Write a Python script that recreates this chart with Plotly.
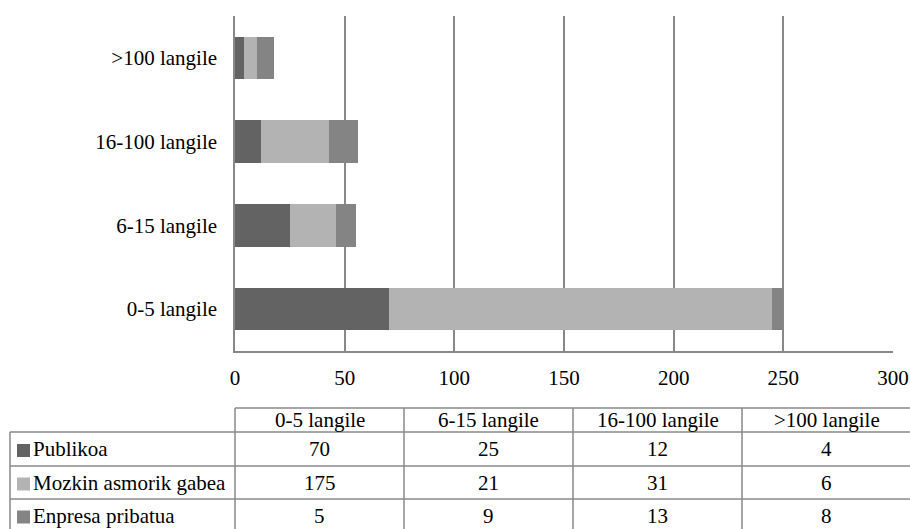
"""Horizontal stacked bars with a data table underneath."""
import plotly.graph_objects as go

categories = ['0-5 langile', '6-15 langile', '16-100 langile', '>100 langile']
series_names = ['Publikoa', 'Mozkin asmorik gabea', 'Enpresa pribatua']
publikoa = [70, 25, 12, 4]
mozkin_gabea = [175, 21, 31, 6]
enpresa_pribatua = [5, 9, 13, 8]
x_ticks = [0, 50, 100, 150, 200, 250, 300]

colors = ['#636363', '#b3b3b3', '#848484']
grid_color = '#888888'
font_family = 'Liberation Serif, Times New Roman, serif'
font_size = 21

W, H = 910, 529


def fx(px):
    return px / W


def fy(px):
    return 1 - px / H


fig = go.Figure()

# stacked bars
series_values = [publikoa, mozkin_gabea, enpresa_pribatua]
for name, vals, col in zip(series_names, series_values, colors):
    fig.add_trace(go.Bar(
        y=categories,
        x=vals,
        name=name,
        orientation='h',
        marker=dict(color=col, line=dict(width=0)),
        showlegend=False
    ))

# data table (drawn with lines + text so the row heights match)
col_edges = [10, 235, 404, 573, 742, 911]
row_edges = [408, 432, 466, 499, 532]
line_style = dict(color=grid_color, width=1.5)

shapes = []
# header top border (not over the label column)
shapes.append(dict(type='line', xref='paper', yref='paper',
                   x0=fx(col_edges[1]), x1=fx(col_edges[-1]),
                   y0=fy(row_edges[0]), y1=fy(row_edges[0]), line=line_style))
for y in row_edges[1:]:
    shapes.append(dict(type='line', xref='paper', yref='paper',
                       x0=fx(col_edges[0]), x1=fx(col_edges[-1]),
                       y0=fy(y), y1=fy(y), line=line_style))
shapes.append(dict(type='line', xref='paper', yref='paper',
                   x0=fx(col_edges[0]), x1=fx(col_edges[0]),
                   y0=fy(row_edges[1]), y1=fy(row_edges[-1]), line=line_style))
for x in col_edges[1:]:
    shapes.append(dict(type='line', xref='paper', yref='paper',
                       x0=fx(x), x1=fx(x),
                       y0=fy(row_edges[0]), y1=fy(row_edges[-1]), line=line_style))

annotations = []
text_font = dict(family=font_family, size=font_size, color='black')
# header
for i, cat in enumerate(categories):
    cx = (col_edges[i + 1] + col_edges[i + 2]) / 2
    cy = (row_edges[0] + row_edges[1]) / 2
    annotations.append(dict(xref='paper', yref='paper', x=fx(cx), y=fy(cy),
                            text=cat, showarrow=False, font=text_font,
                            xanchor='center', yanchor='middle'))
# rows: legend swatch, series name, values
for r, (name, vals, col) in enumerate(zip(series_names, series_values, colors)):
    cy = (row_edges[r + 1] + row_edges[r + 2]) / 2
    shapes.append(dict(type='rect', xref='paper', yref='paper',
                       x0=fx(17), x1=fx(30), y0=fy(cy - 5), y1=fy(cy + 8),
                       fillcolor=col, line=dict(width=0)))
    annotations.append(dict(xref='paper', yref='paper', x=fx(31), y=fy(cy),
                            text=name, showarrow=False, font=text_font,
                            xanchor='left', yanchor='middle'))
    for i, v in enumerate(vals):
        cx = (col_edges[i + 1] + col_edges[i + 2]) / 2
        annotations.append(dict(xref='paper', yref='paper', x=fx(cx), y=fy(cy),
                                text=str(v), showarrow=False, font=text_font,
                                xanchor='center', yanchor='middle'))

fig.update_layout(
    barmode='stack',
    bargap=0.49,
    width=W,
    height=H,
    margin=dict(l=0, r=0, t=0, b=0),
    paper_bgcolor='white',
    plot_bgcolor='white',
    font=dict(family=font_family, size=font_size, color='black'),
    shapes=shapes,
    annotations=annotations,
    xaxis=dict(
        domain=[fx(235), fx(893)],
        range=[0, 300],
        tickvals=x_ticks,
        showgrid=True,
        gridcolor=grid_color,
        gridwidth=1.5,
        zeroline=False,
        showline=True,
        linecolor=grid_color,
        linewidth=1.5,
        ticks='',
        ticklabelstandoff=7,
        automargin=False
    ),
    yaxis=dict(
        domain=[fy(351), fy(16)],
        categoryorder='array',
        categoryarray=categories,
        showgrid=False,
        zeroline=False,
        showline=True,
        linecolor=grid_color,
        linewidth=1.5,
        ticks='',
        ticklabelstandoff=12,
        automargin=False
    )
)

# drop the default body margin so the figure sits at the page origin
fig.write_html("out.html",
               config={'displayModeBar': False},
               post_script="document.body.style.margin='0';"
                           "document.body.style.overflow='hidden';")
